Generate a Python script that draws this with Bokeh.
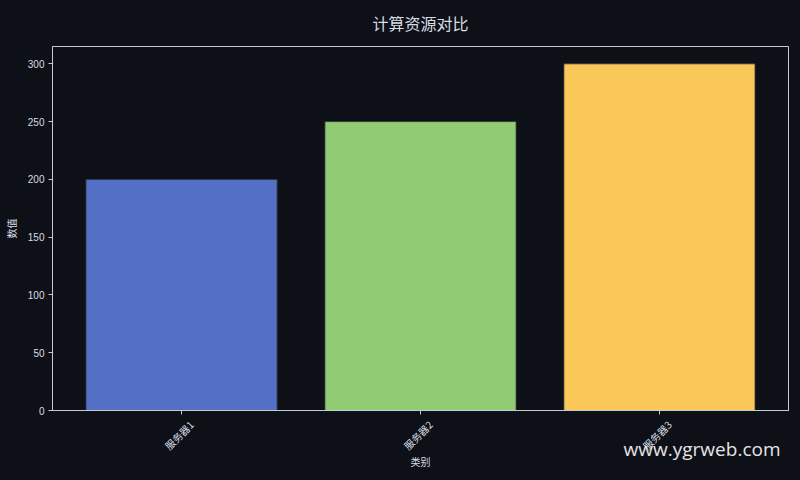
import math
from bokeh.plotting import figure
from bokeh.models import Range1d, FixedTicker, ColumnDataSource, LinearAxis, Title
from bokeh.embed import file_html
from bokeh.resources import INLINE

categories = ["服务器1", "服务器2", "服务器3"]
values = [200, 250, 300]
colors = ["#5470c6", "#91cc75", "#fac858"]
y_ticks = [0, 50, 100, 150, 200, 250, 300]

BG = "#0d1017"
FG = "#d8dde3"
CJK = "Noto Sans CJK SC"

xs = list(range(len(categories)))
src = ColumnDataSource(dict(x=xs, top=values, color=colors))

X0, X1 = -0.54, len(categories) - 1 + 0.54
p = figure(width=800, height=480, output_backend="svg", toolbar_location=None,
           x_range=Range1d(X0, X1),
           y_range=Range1d(0, max(values) * 1.05),
           background_fill_color=BG, border_fill_color=BG,
           min_border_left=52, min_border_right=12, min_border_top=46, min_border_bottom=70)

p.vbar(x="x", top="top", bottom=0, width=0.8, fill_color="color", source=src,
       line_color="#2c3038", line_width=0.8)

p.title.text = "计算资源对比"
p.title.align = "center"
p.title.vertical_align = "top"
p.title.text_color = FG
p.title.text_font = CJK
p.title.text_font_size = "16px"
p.title.text_font_style = "normal"
p.title.standoff = 20

p.grid.visible = False
p.outline_line_color = "#c8ccd0"
p.outline_line_width = 1

for ax in (p.xaxis[0], p.yaxis[0]):
    ax.axis_line_color = "#c8ccd0"
    ax.major_tick_line_color = "#c8ccd0"
    ax.major_tick_out = 4
    ax.major_tick_in = 0
    ax.minor_tick_line_color = None
    ax.major_label_text_color = FG
    ax.major_label_text_font_size = "10px"
    ax.axis_label_text_color = FG
    ax.axis_label_text_font = CJK
    ax.axis_label_text_font_size = "10px"
    ax.axis_label_text_font_style = "normal"

p.yaxis.ticker = FixedTicker(ticks=y_ticks)
p.yaxis.major_label_text_font = "Liberation Sans"
p.yaxis.major_label_standoff = 4
p.yaxis.axis_label = "数值"
p.yaxis.axis_label_standoff = 6

# primary x axis: line and ticks only
p.xaxis.ticker = FixedTicker(ticks=xs)
p.xaxis.major_label_overrides = {i: "" for i in xs}
p.xaxis.major_label_text_font_size = "0px"
p.xaxis.major_label_standoff = 0

# secondary x axis carrying the rotated category labels, nudged so that
# each rotated label is centred on its tick (as matplotlib does)
nudge = 0.042
p.extra_x_ranges = {"lbl": Range1d(X0 - nudge, X1 - nudge)}
lab_ax = LinearAxis(x_range_name="lbl", ticker=FixedTicker(ticks=xs),
                    major_label_overrides={i: c for i, c in zip(xs, categories)},
                    major_label_orientation=math.pi / 4,
                    major_label_text_font=CJK, major_label_text_font_size="10px",
                    major_label_text_color=FG, major_label_standoff=8,
                    axis_line_color=None, major_tick_line_color=None,
                    minor_tick_line_color=None, major_tick_out=0, major_tick_in=0,
                    axis_label="类别", axis_label_text_font=CJK,
                    axis_label_text_font_size="10px", axis_label_text_font_style="normal",
                    axis_label_text_color=FG, axis_label_standoff=-7)
p.add_layout(lab_ax, "below")

wm = Title(text="www.ygrweb.com", align="right", vertical_align="top", offset=8, standoff=-74,
           text_font="Open Sans", text_font_size="19px", text_font_style="normal",
           text_color="#e4e4e4")
p.add_layout(wm, "below")

html = file_html(p, INLINE)
html = html.replace("</head>", "<style>html,body{background:%s;}</style></head>" % BG, 1)
open("out.html", "w").write(html)
